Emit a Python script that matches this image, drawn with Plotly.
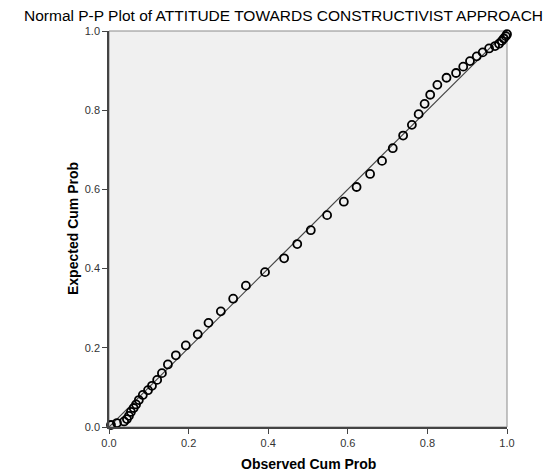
import plotly.graph_objects as go

observed_cum_prob = [0.005, 0.020, 0.038, 0.045, 0.050, 0.055, 0.062, 0.068, 0.075, 0.085,
                     0.098, 0.108, 0.121, 0.133, 0.148, 0.168, 0.193, 0.223, 0.250, 0.281,
                     0.312, 0.344, 0.392, 0.440, 0.473, 0.507, 0.548, 0.590, 0.622, 0.656,
                     0.686, 0.713, 0.739, 0.761, 0.778, 0.793, 0.807, 0.825, 0.848, 0.872,
                     0.890, 0.907, 0.924, 0.939, 0.955, 0.970, 0.980, 0.987, 0.992, 0.997, 1.000]
expected_cum_prob = [0.005, 0.010, 0.014, 0.020, 0.028, 0.038, 0.048, 0.057, 0.068, 0.081,
                     0.093, 0.104, 0.119, 0.136, 0.158, 0.181, 0.206, 0.234, 0.263, 0.292,
                     0.324, 0.357, 0.391, 0.426, 0.462, 0.497, 0.535, 0.569, 0.606, 0.639,
                     0.672, 0.704, 0.736, 0.763, 0.790, 0.816, 0.839, 0.864, 0.882, 0.894,
                     0.910, 0.924, 0.936, 0.946, 0.956, 0.962, 0.968, 0.975, 0.981, 0.987, 0.992]
reference_line = [0.0, 1.0]
tick_values = [0.0, 0.2, 0.4, 0.6, 0.8, 1.0]
tick_labels = ["0.0", "0.2", "0.4", "0.6", "0.8", "1.0"]

FONT = "Liberation Sans, Arial"
W, H = 544, 464          # page body has an 8px margin in the 552x472 window
L, R, T, B = 101, 45, 23, 45
PH = H - T - B

fig = go.Figure()
fig.add_trace(go.Scatter(x=reference_line, y=reference_line, mode="lines",
                         line=dict(color="#444444", width=1.2), hoverinfo="skip",
                         showlegend=False, cliponaxis=False))
fig.add_trace(go.Scatter(x=observed_cum_prob, y=expected_cum_prob, mode="markers",
                         marker=dict(symbol="circle-open", size=8, color="black",
                                     line=dict(width=1.8, color="black")),
                         showlegend=False, cliponaxis=False))

axis_common = dict(range=[0, 1], tickvals=tick_values, ticktext=tick_labels,
                   showgrid=False, zeroline=False, showline=True, linecolor="#444444",
                   linewidth=1.5, ticks="outside", ticklen=5, tickwidth=1.2,
                   tickcolor="#444444", automargin=False,
                   tickfont=dict(family=FONT, size=11, color="#333333"))

fig.update_layout(
    width=W, height=H,
    margin=dict(l=L, r=R, t=T, b=B, autoexpand=False),
    paper_bgcolor="white", plot_bgcolor="#F0F0F0",
    xaxis=axis_common, yaxis=axis_common,
    annotations=[
        dict(text="Normal P-P Plot of ATTITUDE TOWARDS CONSTRUCTIVIST APPROACH",
             xref="paper", yref="paper", x=(W / 2 + 3 - L) / (W - L - R), y=1 + (T - 7.5) / PH,
             xanchor="center", yanchor="middle", showarrow=False,
             font=dict(family=FONT, size=15.5, color="black")),
        dict(text="<b>Observed Cum Prob</b>", xref="paper", yref="paper",
             x=0.5, y=-37 / PH, xanchor="center", yanchor="middle", showarrow=False,
             font=dict(family=FONT, size=14, color="black")),
        dict(text="<b>Expected Cum Prob</b>", xref="paper", yref="paper",
             x=-(L - 65) / (W - L - R), y=0.5, xanchor="center", yanchor="middle",
             textangle=-90, showarrow=False,
             font=dict(family=FONT, size=14, color="black")),
    ],
    shapes=[dict(type="rect", xref="paper", yref="paper", x0=0, y0=0, x1=1, y1=1,
                 line=dict(color="#8a8a8a", width=1), layer="below")],
)

fig.write_html("out.html")
